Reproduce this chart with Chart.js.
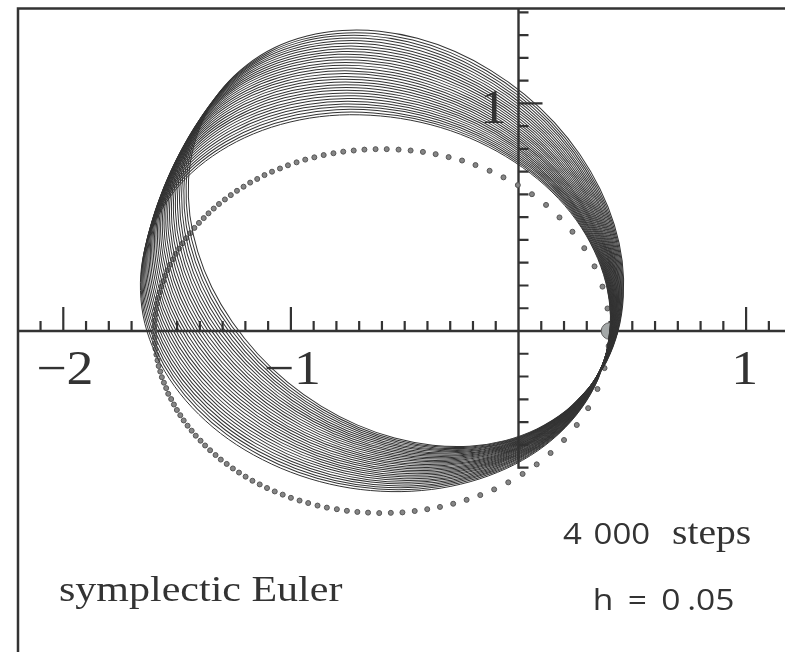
<!DOCTYPE html>
<html>
<head>
<meta charset="utf-8">
<script src="https://cdn.jsdelivr.net/npm/chart.js@4.4.1/dist/chart.umd.min.js"></script>
<style>
html,body{margin:0;padding:0;background:#fff;}
#wrap{position:relative;width:785px;height:652px;overflow:hidden;background:#fff;}
#c{position:absolute;left:0;top:0;}
.ann{position:absolute;white-space:nowrap;color:#333;}
#method{left:59px;top:572px;font:35px/35px "Liberation Serif";transform:scaleX(1.2);transform-origin:0 0;}
#steps{right:34px;top:517px;font:30px/30px "Open Sans";word-spacing:3px;transform:scaleX(1.1);transform-origin:100% 0;}
#steps .serif{font-family:"Liberation Serif";font-size:36px;margin-left:9px;word-spacing:normal;}
#hval{right:51px;top:584px;font:30px/30px "Open Sans";word-spacing:5px;transform:scaleX(1.12);transform-origin:100% 0;}
#hval .gap{margin-left:6px;}
</style>
</head>
<body>
<div id="wrap">
<canvas id="c" width="785" height="652"></canvas>
<div class="ann" id="steps">4 000 <span class="serif">steps</span></div>
<div class="ann" id="hval">h = 0<span class="gap">.05</span></div>
<div class="ann" id="method">symplectic Euler</div>
</div>
<script>
// ---- data ----
// first loop of the numerical (symplectic Euler) trajectory, closed
const loopX = [0.392, 0.404, 0.384, 0.333, 0.254, 0.147, 0.017, -0.133, -0.298, -0.473, -0.652, -0.831, -1.004, -1.165, -1.310, -1.435, -1.535, -1.607, -1.650, -1.661, -1.642, -1.591, -1.511, -1.405, -1.275, -1.125, -0.960, -0.785, -0.605, -0.427, -0.254, -0.092, 0.053, 0.177, 0.277, 0.349, 0.392];
const loopY = [-0.076, 0.066, 0.211, 0.352, 0.487, 0.611, 0.719, 0.810, 0.880, 0.926, 0.948, 0.946, 0.918, 0.866, 0.791, 0.696, 0.584, 0.457, 0.321, 0.178, 0.034, -0.108, -0.243, -0.366, -0.475, -0.565, -0.635, -0.682, -0.704, -0.701, -0.673, -0.621, -0.547, -0.452, -0.339, -0.213, -0.076];
// orientation of each successive loop (clockwise precession about the origin, degrees)
const loopTurnDeg = [0, 0.92, 1.84, 2.76, 3.68, 4.60, 5.52, 6.44, 7.35, 8.27, 9.19, 10.11, 11.03, 11.95, 12.87, 13.79, 14.71, 15.63, 16.55, 17.47, 18.39, 19.31, 20.23, 21.15, 22.06, 22.98, 23.90, 24.82, 25.74, 26.66, 27.58, 28.50];
// exact solution (dotted)
const exactX = [0.391, 0.369, 0.334, 0.289, 0.237, 0.180, 0.121, 0.059, -0.003, -0.066, -0.127, -0.189, -0.248, -0.307, -0.364, -0.420, -0.474, -0.527, -0.579, -0.628, -0.677, -0.724, -0.770, -0.813, -0.856, -0.897, -0.937, -0.975, -1.013, -1.048, -1.083, -1.116, -1.148, -1.179, -1.208, -1.237, -1.264, -1.290, -1.316, -1.339, -1.362, -1.383, -1.404, -1.424, -1.442, -1.460, -1.476, -1.491, -1.506, -1.518, -1.531, -1.542, -1.552, -1.561, -1.569, -1.576, -1.583, -1.588, -1.592, -1.596, -1.598, -1.599, -1.600, -1.598, -1.597, -1.595, -1.591, -1.586, -1.581, -1.574, -1.567, -1.558, -1.548, -1.539, -1.526, -1.514, -1.501, -1.486, -1.471, -1.454, -1.436, -1.418, -1.397, -1.377, -1.355, -1.331, -1.308, -1.282, -1.255, -1.228, -1.199, -1.169, -1.137, -1.105, -1.071, -1.036, -1.000, -0.962, -0.924, -0.883, -0.842, -0.798, -0.754, -0.708, -0.661, -0.612, -0.561, -0.510, -0.456, -0.401, -0.345, -0.287, -0.228, -0.168, -0.107, -0.045, 0.018, 0.080, 0.141, 0.200, 0.256, 0.306, 0.347, 0.378, 0.396];
const exactY = [0.099, 0.195, 0.284, 0.364, 0.436, 0.499, 0.554, 0.601, 0.641, 0.675, 0.704, 0.729, 0.749, 0.764, 0.777, 0.787, 0.793, 0.797, 0.799, 0.799, 0.797, 0.793, 0.788, 0.781, 0.773, 0.763, 0.753, 0.741, 0.728, 0.714, 0.700, 0.685, 0.668, 0.652, 0.634, 0.616, 0.597, 0.578, 0.558, 0.538, 0.517, 0.496, 0.475, 0.453, 0.430, 0.408, 0.385, 0.362, 0.339, 0.315, 0.291, 0.267, 0.243, 0.219, 0.195, 0.170, 0.145, 0.120, 0.096, 0.071, 0.046, 0.021, -0.004, -0.029, -0.054, -0.079, -0.104, -0.129, -0.154, -0.178, -0.203, -0.227, -0.251, -0.276, -0.299, -0.323, -0.347, -0.370, -0.393, -0.416, -0.438, -0.460, -0.482, -0.503, -0.524, -0.545, -0.565, -0.584, -0.604, -0.622, -0.640, -0.658, -0.674, -0.690, -0.705, -0.719, -0.733, -0.745, -0.756, -0.767, -0.776, -0.783, -0.790, -0.795, -0.798, -0.800, -0.799, -0.797, -0.791, -0.783, -0.773, -0.759, -0.742, -0.721, -0.696, -0.665, -0.628, -0.586, -0.536, -0.479, -0.413, -0.339, -0.255, -0.163, -0.066];
// initial value
const startX = [0.4];
const startY = [0];
// axes
const xRange = [-2.2781, 1.1709];
const yRange = [-1.4104, 1.4543];
const xTickValues = [-2.1, -2.0, -1.9, -1.8, -1.7, -1.6, -1.5, -1.4, -1.3, -1.2, -1.1, -1.0, -0.9, -0.8, -0.7, -0.6, -0.5, -0.4, -0.3, -0.2, -0.1, 0.1, 0.2, 0.3, 0.4, 0.5, 0.6, 0.7, 0.8, 0.9, 1.0, 1.1];
const yTickValues = [-0.6, -0.5, -0.4, -0.3, -0.2, -0.1, 0.1, 0.2, 0.3, 0.4, 0.5, 0.6, 0.7, 0.8, 0.9, 1.0, 1.1, 1.2, 1.3, 1.4];
const xLabelValues = [-2, -1, 1];
const xLabelTexts = ['\u22122', '\u22121', '1'];
const yLabelValues = [1];
const yLabelTexts = ['1'];
const yAxisBottom = -0.6;

// ---- chart ----
const pts = (xs, ys) => xs.map((v, i) => ({x: v, y: ys[i]}));
const frame = {left: 18, top: 8.5};
const ink = '#333333';

const datasets = [];
loopTurnDeg.forEach((deg, i) => {
  datasets.push({
    label: 'symplectic Euler, loop ' + (i + 1),
    data: pts(loopX, loopY),
    showLine: true,
    tension: 0.34,
    borderColor: '#333333',
    borderWidth: 1,
    pointRadius: 0,
    pointHoverRadius: 0,
    fill: false,
    clip: false,
    order: 0,
    turnDeg: deg
  });
});
datasets.push({
  label: 'exact solution',
  data: pts(exactX, exactY),
  showLine: false,
  pointRadius: 2.5,
  pointBackgroundColor: '#858585',
  pointBorderColor: '#555555',
  pointBorderWidth: 1,
  clip: false,
  order: 1
});
datasets.push({
  label: 'initial value',
  data: pts(startX, startY),
  showLine: false,
  pointRadius: 8.3,
  pointBackgroundColor: '#a4a8a8',
  pointBorderColor: '#5e5e5e',
  pointBorderWidth: 1,
  clip: false,
  order: 2
});

const decor = {
  id: 'decor',
  beforeDatasetsDraw(chart) {
    const {ctx, scales: {x, y}} = chart;
    const ox = x.getPixelForValue(0), oy = y.getPixelForValue(0);
    ctx.save();
    ctx.strokeStyle = ink;
    ctx.lineCap = 'butt';
    // frame
    ctx.lineWidth = 2.5;
    ctx.beginPath();
    ctx.moveTo(frame.left - 1.25, frame.top); ctx.lineTo(chart.width, frame.top);
    ctx.moveTo(frame.left, frame.top); ctx.lineTo(frame.left, chart.height);
    ctx.stroke();
    // axes
    ctx.lineWidth = 2.4;
    ctx.beginPath();
    ctx.moveTo(frame.left, oy); ctx.lineTo(chart.width, oy);
    ctx.moveTo(ox, frame.top); ctx.lineTo(ox, y.getPixelForValue(yAxisBottom) + 1.1);
    ctx.stroke();
    // ticks
    ctx.lineWidth = 2.2;
    ctx.beginPath();
    xTickValues.forEach(v => {
      const px = x.getPixelForValue(v);
      const len = xLabelValues.includes(v) ? 24 : 10;
      ctx.moveTo(px, oy); ctx.lineTo(px, oy - len);
    });
    yTickValues.forEach(v => {
      const py = y.getPixelForValue(v);
      const len = yLabelValues.includes(v) ? 24 : 10;
      ctx.moveTo(ox, py); ctx.lineTo(ox + len, py);
    });
    ctx.stroke();
    ctx.restore();
  },
  beforeDatasetDraw(chart, args) {
    const ds = chart.data.datasets[args.index];
    if (ds.turnDeg === undefined) return;
    const {ctx, scales: {x, y}} = chart;
    const ox = x.getPixelForValue(0), oy = y.getPixelForValue(0);
    ctx.save();
    ctx.translate(ox, oy);
    ctx.rotate(ds.turnDeg * Math.PI / 180);
    ctx.translate(-ox, -oy);
  },
  afterDatasetDraw(chart, args) {
    const ds = chart.data.datasets[args.index];
    if (ds.turnDeg === undefined) return;
    chart.ctx.restore();
  },
  afterDatasetsDraw(chart) {
    const {ctx, scales: {x, y}} = chart;
    const ox = x.getPixelForValue(0), oy = y.getPixelForValue(0);
    ctx.save();
    ctx.fillStyle = ink;
    ctx.font = '48px "Liberation Serif"';
    ctx.textAlign = 'center';
    ctx.textBaseline = 'alphabetic';
    xLabelValues.forEach((v, i) => {
      ctx.save();
      ctx.translate(x.getPixelForValue(v) + (v < 0 ? 1.5 : -1.5), oy + 53.5);
      ctx.scale(1.12, 1);
      ctx.fillText(xLabelTexts[i], 0, 0);
      ctx.restore();
    });
    yLabelValues.forEach((v, i) => {
      ctx.save();
      ctx.translate(ox - 25, y.getPixelForValue(v) + 19.6);
      ctx.scale(1.12, 1);
      ctx.fillText(yLabelTexts[i], 0, 0);
      ctx.restore();
    });
    ctx.restore();
  }
};

new Chart(document.getElementById('c'), {
  type: 'scatter',
  data: {datasets},
  options: {
    responsive: false,
    animation: false,
    events: [],
    layout: {padding: 0, autoPadding: false},
    scales: {
      x: {type: 'linear', min: xRange[0], max: xRange[1], display: false},
      y: {type: 'linear', min: yRange[0], max: yRange[1], display: false}
    },
    plugins: {legend: {display: false}, tooltip: {enabled: false}}
  },
  plugins: [decor]
});
</script>
</body>
</html>
